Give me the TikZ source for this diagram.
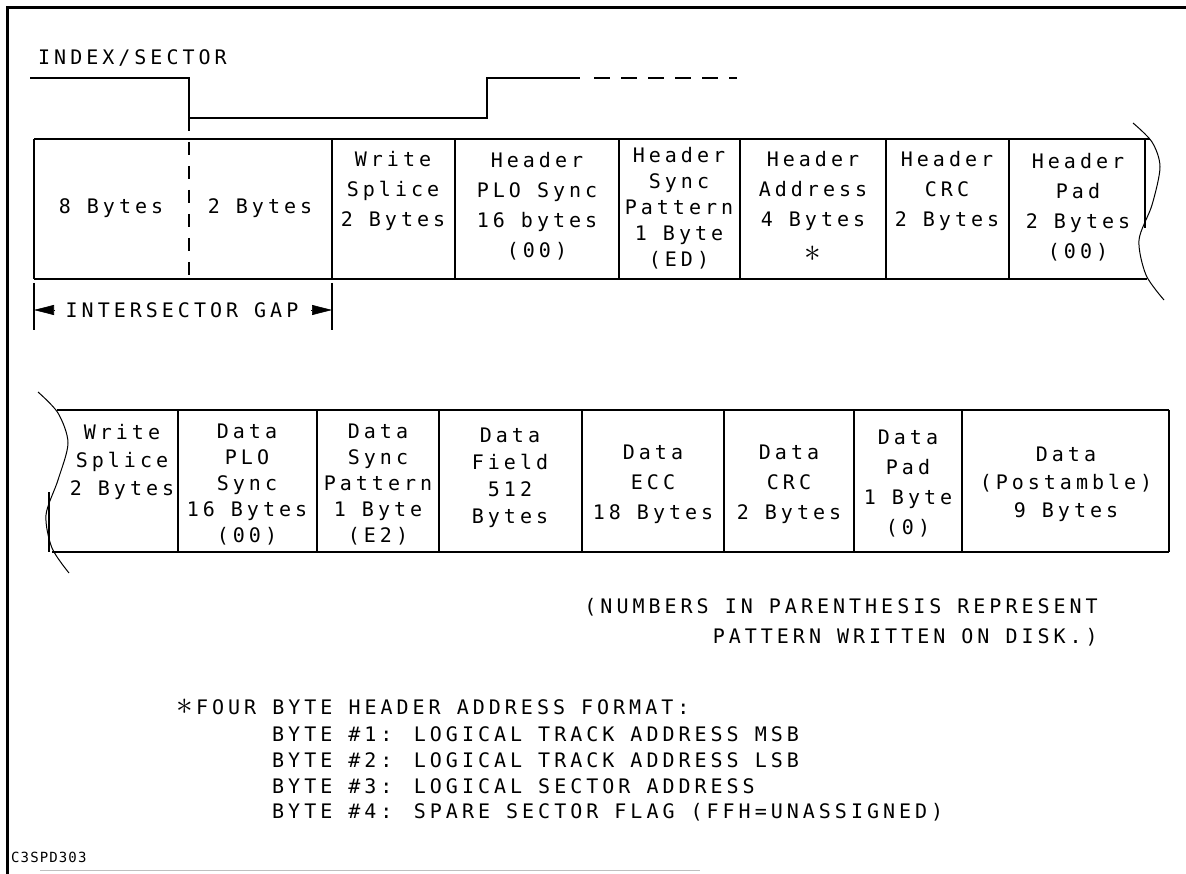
\documentclass[tikz,border=0pt]{standalone}
\usepackage{fontspec}
\usetikzlibrary{arrows.meta}
\newfontfamily\plotfont[LetterSpace=20]{DejaVu Sans Mono}
\newfontfamily\tagfont[LetterSpace=8]{DejaVu Sans Mono}
\tikzset{
  field/.style={align=center,inner sep=0pt,font=\plotfont\fontsize{20}{#1}\selectfont},
  field/.default=30,
  note/.style={anchor=west,inner sep=0pt,font=\plotfont\fontsize{20}{24}\selectfont},
  tag/.style={anchor=west,inner sep=0pt,font=\tagfont\fontsize{14}{16}\selectfont},
  rowline/.style={line width=2.6pt},
  divider/.style={line width=1.1pt},
  signal/.style={line width=2.2pt},
  breakline/.style={line width=1pt},
  gaptip/.style={-{Triangle[length=20pt,width=10pt]},line width=0.6pt}
}
\newcommand{\starmark}{\scalebox{1.6}{$\ast$}}

\begin{document}
\begin{tikzpicture}[x=1pt,y=-1pt]
  \useasboundingbox (0,0) rectangle (1186,874);
  % frame
  \draw[line width=3pt] (7,874) -- (7,8) -- (1186,8);
  \draw[black!25,line width=1pt] (40,870) -- (700,870);

  % index / sector signal
  \node[note] (idx) at (38,58) {INDEX/SECTOR};
  \draw[signal] (30,78) -- (189,78) -- (189,118) -- (487,118) -- (487,78) -- (580,78);
  \draw[signal,dash pattern=on 16pt off 11pt] (594,78) -- (737,78);

  % header row
  \draw[rowline] (34,139) -- (1150,139);
  \draw[rowline] (34,279) -- (1147,279);
  \foreach \x in {34,332,455,619,740,886,1009}
    \draw[divider] (\x,139) -- (\x,279);
  \draw[divider] (1145,139) -- (1145,228);
  \draw[divider,dash pattern=on 13pt off 11pt] (189,118) -- (189,279);
  \draw[breakline] plot[smooth] coordinates {(1133,123) (1152,142) (1160,167) (1152,205) (1139,240) (1146,275) (1164,300)};

  \foreach \x/\y/\sp/\name/\txt in {
      111/208/30/h8/{8 Bytes},
      260/208/30/h2/{2 Bytes},
      393/191/30/hws/{Write\\Splice\\2 Bytes},
      537/206/30/hplo/{Header\\PLO Sync\\16 bytes\\(00)},
      679/208/26/hsync/{Header\\Sync\\Pattern\\1 Byte\\(ED)},
      947/191/30/hcrc/{Header\\CRC\\2 Bytes},
      1078/207/30/hpad/{Header\\Pad\\2 Bytes\\(00)}}
    \node[field=\sp] (\name) at (\x,\y) {\txt};
  \node[field] (haddr) at (813,191) {Header\\Address\\4 Bytes};
  \node[field] (hstar) at (813,254) {\starmark};

  % intersector gap
  \draw[divider] (34,283) -- (34,330);
  \draw[divider] (332,283) -- (332,330);
  \node[note,anchor=center] (gap) at (182,310) {INTERSECTOR GAP};
  \coordinate (gapL) at (34,310);
  \coordinate (gapR) at (332,310);
  \draw[gaptip] ([xshift=21pt]gapL) -- (gapL);
  \draw[gaptip] ([xshift=-21pt]gapR) -- (gapR);

  % data row
  \draw[rowline] (57,410) -- (1169,410);
  \draw[rowline] (52,552) -- (1169,552);
  \foreach \x in {178,317,439,582,724,854,962}
    \draw[divider] (\x,410) -- (\x,552);
  \draw[rowline] (1169,410) -- (1169,552);
  \draw[divider] (49,492) -- (49,552);
  \draw[breakline] plot[smooth] coordinates {(38,392) (58,413) (68,443) (58,480) (46,515) (52,548) (69,573)};

  \foreach \x/\y/\sp/\name/\txt in {
      122/462/28/dws/{Write\\Splice\\2 Bytes},
      247/485/26/dplo/{Data\\PLO\\Sync\\16 Bytes\\(00)},
      378/485/26/dsync/{Data\\Sync\\Pattern\\1 Byte\\(E2)},
      510/478/27/dfield/{Data\\Field\\512\\Bytes},
      653/484/30/decc/{Data\\ECC\\18 Bytes},
      789/484/30/dcrc/{Data\\CRC\\2 Bytes},
      908/484/30/dpad/{Data\\Pad\\1 Byte\\(0)},
      1066/484/28/dpost/{Data\\(Postamble)\\9 Bytes}}
    \node[field=\sp] (\name) at (\x,\y) {\txt};

  % notes
  \node[note,anchor=east] (legend1) at (1098,607) {(NUMBERS IN PARENTHESIS REPRESENT};
  \node[note,anchor=east] (legend2) at (1098,637) {PATTERN WRITTEN ON DISK.)};
  \node[note] (fmt) at (176,707) {\starmark\,FOUR BYTE HEADER ADDRESS FORMAT:};
  \foreach \y/\name/\txt in {
      734/b1/{BYTE \#1: LOGICAL TRACK ADDRESS MSB},
      760/b2/{BYTE \#2: LOGICAL TRACK ADDRESS LSB},
      786/b3/{BYTE \#3: LOGICAL SECTOR ADDRESS},
      812/b4/{BYTE \#4: SPARE SECTOR FLAG (FFH=UNASSIGNED)}}
    \node[note] (\name) at (272,\y) {\txt};
  \node[tag] (code) at (11,857) {C3SPD303};
\end{tikzpicture}
\end{document}
